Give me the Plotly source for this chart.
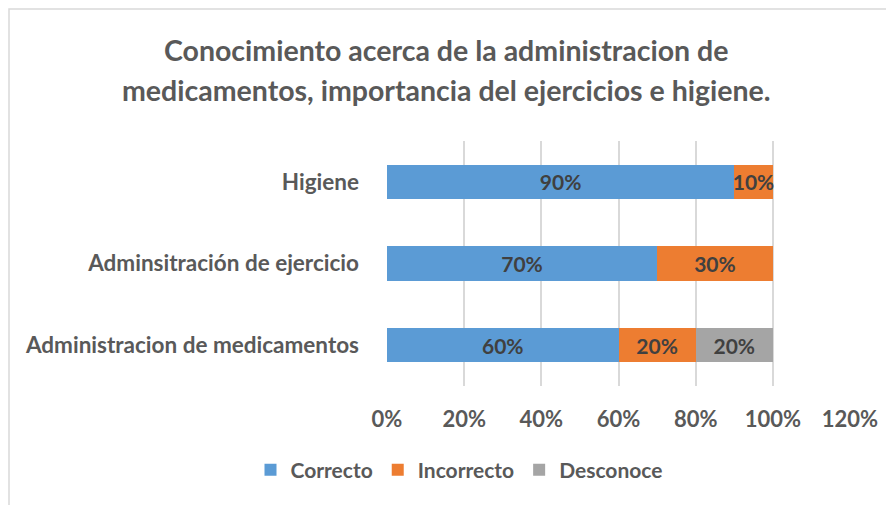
import plotly.graph_objects as go

categories = ["Administracion de medicamentos", "Adminsitración de ejercicio", "Higiene"]
correcto = [0.60, 0.70, 0.90]
incorrecto = [0.20, 0.30, 0.10]
desconoce = [0.20, 0.0, 0.0]
series_names = ["Correcto", "Incorrecto", "Desconoce"]
colors = ["#5B9BD5", "#ED7D31", "#A5A5A5"]
tick_vals = [0, 0.2, 0.4, 0.6, 0.8, 1.0, 1.2]
tick_text = ["0%", "20%", "40%", "60%", "80%", "100%", "120%"]
title_lines = ["Conocimiento acerca de la administracion de",
               "medicamentos, importancia del ejercicios e higiene."]

FONT = "Lato"
O = 8  # page body margin offset
fig = go.Figure()
for name, vals, col in zip(series_names, [correcto, incorrecto, desconoce], colors):
    texts = [f"<b>{round(v*100)}%</b>" if v > 0 else "" for v in vals]
    fig.add_trace(go.Bar(
        y=categories, x=vals, name=f"<b>{name}</b>", orientation="h",
        marker=dict(color=col, line=dict(width=0)),
        text=texts, textposition="inside", insidetextanchor="middle",
        constraintext="none",
        textfont=dict(family=FONT, size=21, color="#404040"),
        cliponaxis=False,
    ))

W, H = 894, 505
L, R, T, B = 387 - O, 850 - O, 141 - O, 386 - O
pw, ph = R - L, B - T
def px(x): return (x - O - L) / pw
def py(y): return (B - (y - O)) / ph

annotations = []
for line, yc in zip(title_lines, [50, 90]):
    annotations.append(dict(
        text=f"<b>{line}</b>", xref="paper", yref="paper",
        x=px(446), y=py(yc), xanchor="center", yanchor="middle",
        showarrow=False, font=dict(family=FONT, size=28.5, color="#595959"),
    ))

fig.update_layout(
    width=W, height=H,
    barmode="stack", bargap=0.58,
    paper_bgcolor="white", plot_bgcolor="white",
    margin=dict(l=L, r=W - R, t=T, b=H - B, autoexpand=False),
    font=dict(family=FONT, color="#595959"),
    xaxis=dict(
        range=[0, 1.2], tickvals=tick_vals, ticktext=["<b>" + t + "</b>" for t in tick_text],
        showgrid=True, gridcolor="#D9D9D9", gridwidth=1.5,
        zeroline=False, showline=False, automargin=False,
        tickfont=dict(family=FONT, size=22, color="#595959"),
        ticks="", ticklabelstandoff=18,
    ),
    yaxis=dict(
        tickmode="array", tickvals=categories, ticktext=["<b>" + c + "</b>" for c in categories],
        tickfont=dict(family=FONT, size=22.5, color="#595959"),
        showgrid=False, zeroline=False, showline=False, ticks="",
        ticklabelstandoff=27, automargin=False,
    ),
    showlegend=True,
    legend=dict(
        orientation="h", x=(459 - O) / W, xref="container", xanchor="center",
        y=1 - (470 - O) / H, yref="container", yanchor="middle",
        font=dict(family=FONT, size=21, color="#595959"),
        traceorder="normal", itemwidth=30, entrywidth=0,
    ),
    annotations=annotations,
    shapes=[dict(
        type="rect", xref="paper", yref="paper",
        x0=px(9), x1=px(905), y0=py(520), y1=py(9),
        line=dict(color="#D9D9D9", width=1.5), fillcolor="rgba(0,0,0,0)", layer="below",
    )],
)

fig.write_html("out.html")
